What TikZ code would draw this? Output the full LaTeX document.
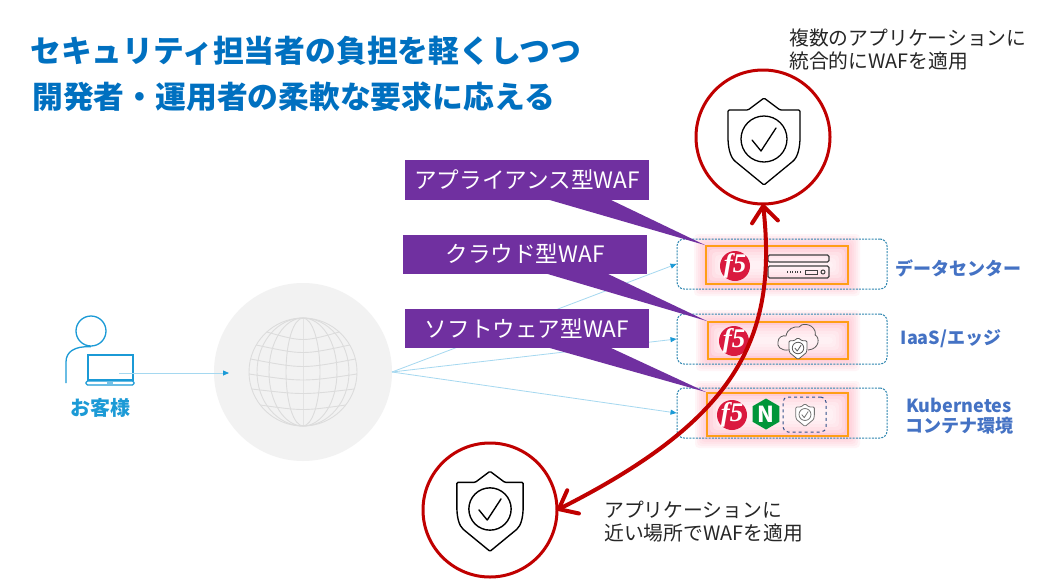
\documentclass[tikz,border=0pt]{standalone}
\usepackage{fontspec}
\setmainfont{Noto Sans CJK JP}
\newfontfamily\ffive{Liberation Serif}
\usetikzlibrary{arrows.meta,fit,calc,shapes.geometric}
\definecolor{titleblue}{HTML}{0070C0}
\definecolor{skyblue}{HTML}{1B9AD6}
\definecolor{palesky}{HTML}{A5D8F0}
\definecolor{dashblue}{HTML}{2F86B0}
\definecolor{labelblue}{HTML}{4472C4}
\definecolor{wafpurple}{HTML}{7030A0}
\definecolor{redring}{HTML}{C00000}
\definecolor{f5red}{HTML}{DA1A3F}
\definecolor{orangeline}{HTML}{FF9E16}
\definecolor{glowpink}{HTML}{FF9AAE}
\definecolor{globegrey}{HTML}{F2F2F2}
\definecolor{meshgrey}{HTML}{DCDCDC}
\definecolor{ngreen}{HTML}{009639}
\newcommand{\fs}[1]{\fontsize{#1}{#1}\selectfont}
\tikzset{
  x=1pt,y=-1pt,
  titletext/.style={anchor=west,inner sep=0,text=titleblue,font=\fs{30.8}\bfseries},
  notetext/.style={anchor=west,inner sep=0,font=\fs{19.8},text=black!85},
  sidelabel/.style={inner sep=0,text=labelblue,font=\fs{18}\bfseries,align=center},
  wafbox/.style={fill=wafpurple,text=white,inner sep=0,font=\fs{22.6},align=center},
  zonebox/.style={draw=dashblue,line width=1pt,dash pattern=on 2pt off 1.2pt,rounded corners=7pt,inner sep=0},
  orangebox/.style={draw=orangeline,line width=1.8pt,inner sep=0},
  ring/.style={circle,draw=redring,line width=3pt,inner sep=0,minimum size=134pt,outer sep=0},
  f5logo/.style={circle,fill=f5red,text=white,inner sep=-6pt,minimum size=30pt,font=\ffive\fs{27}\bfseries\itshape},
  feed/.style={draw=palesky,line width=.8pt},
  feedtip/.style={-{Triangle[length=6pt,width=5pt,color=skyblue]}},
  redarrow/.style={draw=redring,line width=4pt,line cap=round,{Straight Barb[length=16pt,width=26pt,round]}-{Straight Barb[length=16pt,width=26pt,round]}},
  mesh/.style={draw=meshgrey,line width=.9pt},
  pics/shieldicon/.style={code={
    \draw[pic actions,fill=white,rounded corners=1.2pt] (0,-41) -- (-16,-29) -- (-36,-29) -- (-36,-3)
      .. controls (-36,8) and (-34,18) .. (-28,23) -- (0,46) -- (28,23)
      .. controls (34,18) and (36,8) .. (36,-3) -- (36,-29) -- (16,-29) -- cycle;
    \draw[pic actions] (0,0) circle[radius=23];
    \draw[pic actions,line cap=round,line join=round] (-12,1) -- (-3,12) -- (12,-11);
  }}
}
\newcommand{\glow}[4]{%
  \foreach \k in {12,10,8,6,4,2,0}{
    \fill[glowpink,opacity=.09,rounded corners=4pt] ({#1-\k},{#2-\k}) rectangle ({#3+\k},{#4+\k});
  }
  \foreach \k in {3,6,9,12,15}{
    \fill[white,opacity=.25,rounded corners=4pt] ({#1+\k},{#2+\k}) rectangle ({#3-\k},{#4-\k});
  }
}
\begin{document}
\begin{tikzpicture}
\useasboundingbox (0,0) rectangle (1044,584);
\fill[white] (0,0) rectangle (1044,584);

% titles
\node[titletext] (t1) at (30,51) {セキュリティ担当者の負担を軽くしつつ};
\node[titletext] (t2) at (32,97) {開発者・運用者の柔軟な要求に応える};

% notes
\node[notetext] (n1) at (789,38) {複数のアプリケーションに};
\node[notetext] (n2) at (789,61) {統合的にWAFを適用};
\node[notetext] (n3) at (604,510) {アプリケーションに};
\node[notetext] (n4) at (604,533) {近い場所でWAFを適用};

% customer
\node[circle,draw=skyblue,line width=1.3pt,minimum size=30pt,inner sep=0] (head) at (91,331) {};
\draw[skyblue,line width=1.3pt] (66,383) -- (66,362) .. controls (66,352) and (74,346) .. (head.south);
\node[draw=skyblue,line width=1.3pt,fit={(88,355)(133,380)},inner sep=0] (laptop) {};
\draw[skyblue,line width=1.3pt,rounded corners=1.5pt,fill=white] (86,381) rectangle (134,385);
\fill[skyblue!60] (107,381.5) rectangle (113,384);
\node[inner sep=0,text=skyblue,font=\fs{20}\bfseries] (cust) at (100,408) {お客様};
\coordinate (laptopin) at (119,373);

% globe
\node[circle,fill=globegrey,inner sep=0,minimum size=178pt,outer sep=0] (globe) at (303,372) {};
\coordinate (globein) at (229,373);
\begin{scope}[shift={(globe.center)}]
  \foreach \r in {0,17,34,46,54}{
    \draw[mesh] (0,0) ellipse[x radius=\r,y radius=54];
  }
  \foreach \y/\b in {-40/5,-27/5,-13/5,2/4,17/3,33/3}{
    \pgfmathsetmacro{\w}{sqrt(54*54-\y*\y)}
    \draw[mesh] (-\w,\y) .. controls (0,{\y+2*\b}) .. (\w,\y);
  }
\end{scope}

% right-hand zones
\glow{706}{246}{848}{284}
\glow{708}{322}{848}{359}
\glow{707}{393}{848}{436}
\node[zonebox,fit={(677,239)(887,289)}] (z1) {};
\node[zonebox,fit={(677,314)(887,364)}] (z2) {};
\node[zonebox,fit={(677,388)(887,438)}] (z3) {};
\node[orangebox,fit={(706,246)(848,284)}] (o1) {};
\node[orangebox,fit={(708,322)(848,359)}] (o2) {};
\node[orangebox,fit={(707,393)(848,436)}] (o3) {};

% feed lines
\draw[feed,feedtip] (laptopin) -- (globein);
\draw[feed,feedtip] (globe.east) -- (z1.west);
\draw[feed,feedtip] (globe.east) -- (z2.west);
\draw[feed,feedtip] (globe.east) -- (z3.west);

% f5 logos
\node[f5logo] (f1) at (735,266) {f5};
\node[f5logo] (f2) at (734,341) {f5};
\node[f5logo] (f3) at (732,415) {f5};

% server icon
\draw[black!75,line width=1.1pt,rounded corners=1.5pt] (768,255) rectangle (829,262);
\draw[black!75,line width=1.1pt,rounded corners=1.5pt] (768,266) rectangle (829,278);
\foreach \x in {787,789.5,792,794.5,797,799.5}{\fill[black!75] (\x,271) rectangle +(1.4,2);}
\draw[black!75,line width=1pt] (805,270) rectangle (817,274);
\draw[black!75,line width=1pt] (823,272) circle[radius=2];

% cloud icon
\draw[black!65,line width=.8pt,line join=round]
  (789,350) .. controls (780,351) and (777,346) .. (778,342)
  .. controls (778,337) and (783,335) .. (786,336)
  .. controls (787,329) and (794,326) .. (799,327)
  .. controls (801,323) and (812,323) .. (815,331)
  .. controls (816,334) and (815,335) .. (815,335)
  .. controls (820,337) and (820,349) .. (808,350);
\pic[scale=.25,draw=black!65,line width=.8pt] at (798,348) {shieldicon};

% nginx + dashed shield
\node[regular polygon,regular polygon sides=6,shape border rotate=30,fill=ngreen,text=white,inner sep=-5pt,minimum size=31pt,font=\fs{22}\bfseries] (nx) at (766,414) {N};
\node[draw=labelblue!70!black,line width=1pt,dashed,rounded corners=5pt,inner sep=0,fit={(783,397)(826,432)}] (dbox) {};
\pic[scale=.26,draw=black!55,line width=.8pt] at (805,414.5) {shieldicon};

% side labels
\node[sidelabel] (l1) at (958,268) {データセンター};
\node[sidelabel] (l2) at (951,339) {IaaS/エッジ};
\node[sidelabel] (l3) at (959,416) {Kubernetes\\[2pt]コンテナ環境};

% callouts
\node[wafbox,fit={(405,160)(649,200)}] (c1) {};
\node[wafbox,fit={(403,235)(647,274)}] (c2) {};
\node[wafbox,fit={(405,309)(649,348)}] (c3) {};
\node[inner sep=0,text=white,font=\fs{22.6}] (c1t) at (c1.center) {アプライアンス型WAF};
\node[inner sep=0,text=white,font=\fs{22.6}] (c2t) at (525,254) {クラウド型WAF};
\node[inner sep=0,text=white,font=\fs{22.6}] (c3t) at (c3.center) {ソフトウェア型WAF};
\fill[wafpurple] (548,199.5) -- (610,199.5) -- (o1.north west) -- cycle;
\fill[wafpurple] (546,273.5) -- (607,273.5) -- (o2.north west) -- cycle;
\fill[wafpurple] (548,347.5) -- (610,347.5) -- (o3.north west) -- cycle;

% rings
\node[ring] (rtop) at (763,137) {};
\node[ring] (rbot) at (490,510) {};
\pic[scale=1,draw=black,line width=1.3pt] at (764,139) {shieldicon};
\pic[scale=.92,draw=black,line width=1.4pt] at (490,509) {shieldicon};

% red arrow
\draw[redarrow] (rtop.south) .. controls (778,340) and (735,420) .. (rbot.east);
\end{tikzpicture}
\end{document}
